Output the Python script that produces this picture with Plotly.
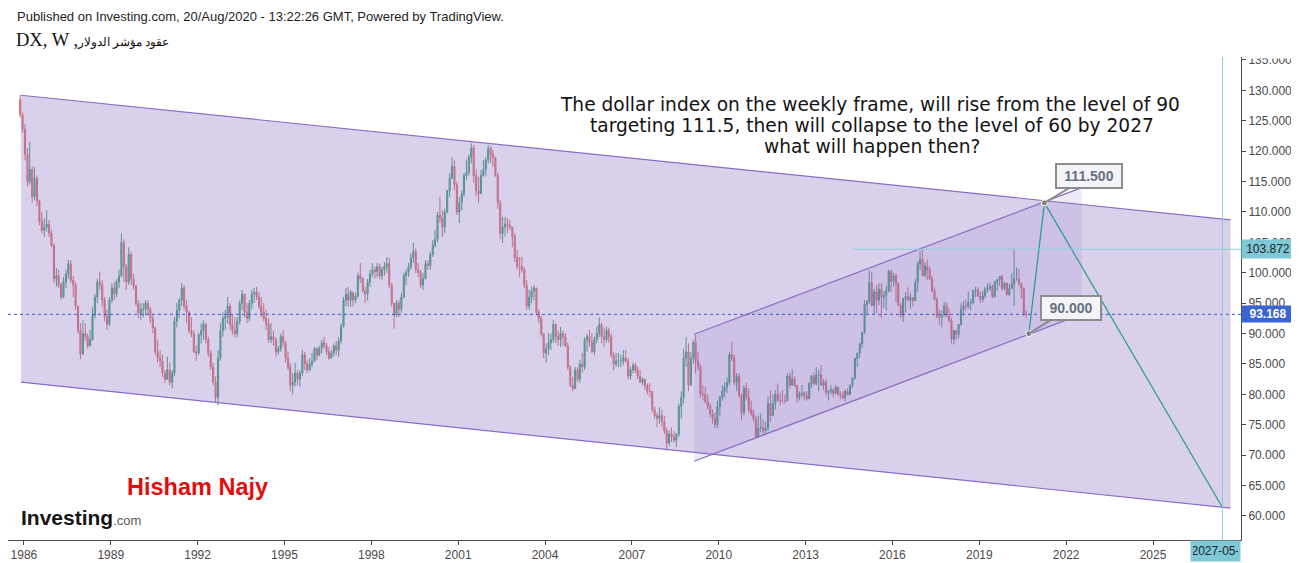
import datetime as dt
import pandas as pd
import plotly.graph_objects as go

# ---------------- data (monthly OHLC) ----------------
first_month = "1985-11-01"
first_open = 128.5

highs = [
    129.3, 126.4,  # 1985 Nov-Dec
    124.5, 120.5, 121.5, 117.5, 117.4, 116.0, 112.0, 110.0, 109.0, 110.3, 108.7, 107.0,  # 1986
    104.8, 100.8, 100.5, 98.3, 99.3, 100.5, 102.1, 102.1, 99.5, 98.5, 94.5, 91.7,  # 1987
    92.2, 91.7, 90.0, 90.6, 94.4, 96.5, 99.0, 100.2, 98.8, 96.0, 94.0, 96.0,  # 1988
    98.3, 98.5, 99.0, 100.5, 106.5, 105.5, 101.5, 104.2, 103.5, 99.8, 98.0, 95.5,  # 1989
    95.0, 95.0, 95.5, 95.5, 94.4, 93.0, 91.0, 89.0, 87.3, 86.5, 84.0, 86.2,  # 1990
    85.2, 84.0, 92.7, 95.0, 95.8, 98.3, 98.0, 95.5, 93.8, 92.7, 90.5, 88.0,  # 1991
    90.1, 91.7, 92.2, 91.8, 89.5, 87.3, 85.2, 83.0, 87.3, 91.7, 93.5, 93.9,  # 1992
    96.0, 95.0, 93.0, 92.7, 92.7, 95.5, 97.2, 96.5, 95.0, 95.5, 97.2, 97.5,  # 1993
    97.7, 96.8, 96.0, 95.0, 93.9, 92.5, 91.7, 90.5, 89.4, 88.0, 90.0, 90.6,  # 1994
    88.8, 87.0, 85.2, 83.5, 85.2, 84.0, 84.0, 87.3, 87.0, 85.6, 86.0, 86.8,  # 1995
    87.8, 87.8, 88.0, 89.0, 89.5, 88.5, 87.8, 87.3, 88.4, 88.8, 89.4, 91.7,  # 1996
    96.0, 97.5, 97.7, 97.2, 96.8, 96.7, 100.0, 101.6, 99.3, 97.7, 99.0, 100.5,  # 1997
    101.6, 101.0, 101.6, 101.5, 101.0, 101.8, 102.6, 102.5, 98.3, 95.0, 95.5, 95.5,  # 1998
    96.7, 100.0, 100.5, 101.6, 103.2, 104.9, 104.0, 101.6, 100.5, 100.0, 102.1, 102.0,  # 1999
    103.5, 105.4, 107.0, 110.0, 112.5, 110.3, 110.5, 113.6, 116.4, 119.0, 118.5, 115.0,  # 2000
    112.5, 113.6, 116.4, 118.6, 119.5, 121.3, 121.0, 117.0, 115.8, 116.9, 118.6, 119.0,  # 2001
    121.0, 120.8, 120.2, 119.0, 116.5, 112.0, 109.2, 109.2, 109.0, 108.7, 107.5, 106.5,  # 2002
    103.8, 102.6, 102.6, 101.0, 98.8, 97.2, 97.7, 98.0, 97.5, 94.0, 93.0, 90.1,  # 2003
    88.4, 90.1, 90.0, 92.2, 91.7, 90.5, 91.1, 90.5, 90.1, 88.5, 84.8, 82.9,  # 2004
    84.5, 84.5, 85.7, 86.8, 89.4, 90.0, 90.6, 90.1, 89.5, 91.1, 92.7, 91.8,  # 2005
    91.0, 91.1, 91.0, 90.0, 87.0, 86.8, 86.8, 86.5, 87.3, 87.3, 86.0, 84.5,  # 2006
    85.2, 85.2, 84.5, 84.0, 82.8, 82.4, 81.8, 81.9, 80.5, 78.0, 77.0, 77.9,  # 2007
    77.4, 76.5, 74.6, 74.1, 74.6, 74.0, 73.5, 78.5, 80.5, 87.5, 89.4, 88.4,  # 2008
    87.0, 89.0, 89.8, 87.0, 85.0, 81.5, 81.2, 80.0, 78.5, 77.5, 77.0, 79.0,  # 2009
    79.8, 81.5, 82.0, 82.8, 87.0, 88.7, 86.5, 83.5, 83.5, 80.2, 81.5, 81.9,  # 2010
    81.0, 79.0, 77.5, 76.5, 76.5, 76.9, 75.8, 75.5, 79.6, 80.7, 80.0, 80.7,  # 2011
    81.8, 80.2, 80.7, 80.0, 83.5, 83.6, 84.1, 83.0, 81.5, 80.5, 81.5, 80.5,  # 2012
    80.5, 82.0, 83.2, 83.6, 84.5, 84.0, 84.8, 82.5, 82.5, 80.8, 81.5, 81.0,  # 2013
    81.5, 81.3, 80.5, 80.5, 80.8, 81.0, 81.6, 82.8, 86.0, 86.8, 88.5, 90.2,  # 2014
    95.5, 95.5, 100.4, 100.2, 97.3, 98.0, 98.3, 98.3, 97.0, 97.8, 100.5, 100.5,  # 2015
    100.0, 99.9, 98.5, 95.0, 95.6, 96.8, 97.6, 96.6, 96.0, 99.0, 101.9, 103.6,  # 2016
    103.8, 101.7, 102.2, 101.0, 99.4, 97.6, 96.0, 94.0, 93.8, 95.2, 95.2, 94.2,  # 2017
    92.6, 90.6, 90.6, 91.6, 95.0, 95.4, 95.6, 96.9, 95.7, 97.2, 97.7, 97.7,  # 2018
    96.9, 97.0, 97.7, 98.3, 98.4, 98.0, 98.7, 99.0, 99.4, 99.7, 98.5, 98.4,  # 2019
    98.2, 99.9, 103.8, 100.9, 100.6, 98.4, 97.6, 93.9,  # 2020 Jan-Aug
]
lows = [
    125.5, 123.0,
    118.5, 114.2, 114.5, 111.5, 112.0, 111.0, 107.8, 106.5, 105.9, 106.8, 105.9, 104.2,
    98.3, 97.7, 97.5, 95.5, 95.8, 97.5, 99.0, 98.3, 96.0, 93.9, 90.0, 85.8,
    86.5, 88.8, 87.5, 87.8, 88.8, 92.5, 95.0, 97.2, 94.4, 92.0, 90.6, 91.2,
    95.0, 95.5, 96.0, 97.5, 99.3, 98.5, 97.2, 98.0, 98.0, 97.2, 94.5, 92.5,
    92.2, 92.7, 93.0, 93.0, 91.7, 90.1, 86.5, 85.2, 84.5, 82.9, 81.9, 82.4,
    81.5, 81.0, 83.0, 91.0, 92.5, 94.5, 93.9, 91.7, 90.0, 89.4, 86.8, 85.5,
    86.5, 88.4, 89.0, 88.4, 86.2, 84.0, 81.5, 78.6, 78.2, 85.5, 89.5, 90.6,
    91.7, 90.6, 89.8, 89.4, 89.4, 91.5, 93.9, 92.7, 91.7, 92.0, 94.0, 95.0,
    95.5, 94.0, 92.7, 92.0, 90.6, 88.5, 88.4, 88.0, 86.2, 86.5, 87.0, 87.8,
    85.2, 84.0, 80.5, 80.0, 81.3, 81.5, 81.3, 83.0, 84.0, 83.5, 83.8, 84.5,
    85.3, 85.6, 86.2, 86.8, 87.5, 86.5, 85.6, 85.8, 86.2, 86.5, 86.2, 88.4,
    91.0, 94.5, 94.4, 94.4, 94.5, 95.0, 95.8, 98.3, 96.7, 95.0, 95.5, 97.7,
    99.3, 99.0, 99.3, 99.0, 98.8, 99.5, 100.0, 97.5, 94.4, 90.8, 92.7, 92.7,
    93.4, 95.8, 98.0, 99.3, 100.5, 101.6, 100.0, 99.3, 97.5, 97.2, 99.0, 100.5,
    100.5, 102.6, 104.2, 105.0, 108.2, 105.9, 106.5, 109.8, 112.5, 115.5, 113.6, 109.5,
    108.2, 110.3, 112.5, 115.3, 116.0, 118.0, 114.8, 112.5, 111.5, 113.0, 115.8, 116.0,
    118.0, 118.0, 117.4, 115.8, 110.5, 105.5, 104.9, 105.9, 106.5, 107.0, 104.2, 101.8,
    100.5, 99.3, 100.0, 97.5, 93.9, 93.9, 95.0, 95.5, 93.0, 91.7, 89.5, 86.0,
    85.2, 86.5, 87.3, 88.5, 88.4, 88.0, 87.8, 88.0, 87.8, 84.0, 81.2, 80.5,
    80.8, 82.0, 81.9, 83.5, 84.0, 87.0, 87.8, 86.8, 86.5, 88.4, 89.4, 88.4,
    87.8, 88.5, 88.5, 86.0, 84.0, 84.5, 84.5, 84.5, 84.8, 85.2, 82.5, 82.4,
    83.5, 83.5, 82.5, 81.9, 81.5, 80.8, 80.0, 79.6, 77.0, 76.0, 74.6, 75.2,
    74.6, 73.5, 70.8, 71.5, 72.2, 72.0, 71.3, 73.0, 76.0, 78.5, 84.5, 80.5,
    81.5, 85.0, 83.5, 84.0, 79.5, 79.0, 78.5, 77.5, 76.3, 75.2, 74.4, 74.5,
    76.5, 79.0, 79.5, 80.2, 81.5, 85.5, 81.5, 80.5, 79.5, 75.8, 76.5, 79.0,
    77.0, 76.5, 75.5, 72.8, 72.8, 73.8, 73.5, 73.4, 74.0, 75.5, 76.5, 77.5,
    78.8, 78.2, 78.5, 78.5, 78.8, 81.0, 81.5, 81.2, 78.6, 79.0, 79.5, 79.0,
    79.0, 79.2, 81.0, 81.5, 81.5, 80.5, 81.5, 80.8, 79.8, 79.0, 80.0, 79.6,
    80.0, 79.8, 79.2, 79.2, 78.9, 79.8, 79.8, 81.0, 82.4, 84.5, 86.0, 87.6,
    89.9, 93.2, 94.9, 94.5, 93.1, 93.4, 94.7, 92.6, 94.2, 93.8, 96.8, 96.9,
    97.8, 95.2, 94.5, 92.6, 91.9, 93.5, 95.4, 94.1, 94.5, 95.4, 96.9, 100.5,
    99.4, 99.2, 98.8, 98.8, 96.8, 95.5, 92.5, 91.4, 91.0, 92.8, 92.6, 91.9,
    88.4, 88.2, 88.9, 89.2, 91.3, 93.2, 93.7, 94.1, 93.8, 94.8, 96.0, 96.0,
    95.0, 95.2, 95.8, 96.7, 97.0, 95.8, 95.9, 97.0, 97.8, 97.1, 97.1, 96.3,
    96.2, 97.3, 94.6, 98.7, 97.8, 95.7, 92.9, 92.6,
]
closes = [
    126.0, 123.6,
    119.5, 115.0, 117.0, 112.5, 115.5, 111.8, 108.5, 107.0, 107.5, 108.0, 106.5, 104.5,
    99.0, 99.5, 98.0, 96.0, 98.5, 99.8, 101.5, 98.8, 98.0, 94.5, 90.5, 86.6,
    90.0, 89.5, 88.0, 89.0, 93.0, 96.0, 98.5, 98.0, 95.5, 92.8, 91.5, 95.5,
    97.5, 96.5, 98.5, 99.5, 105.0, 101.0, 98.5, 103.0, 99.0, 97.8, 95.0, 93.3,
    94.0, 94.0, 95.0, 94.0, 92.5, 91.0, 87.0, 86.0, 85.5, 83.5, 82.5, 84.0,
    82.0, 83.5, 92.0, 93.8, 95.5, 97.5, 94.5, 93.5, 90.5, 90.0, 87.0, 86.8,
    89.8, 90.5, 91.5, 89.0, 86.8, 84.5, 82.0, 79.5, 86.0, 90.5, 92.5, 92.8,
    94.5, 91.5, 90.5, 90.0, 92.0, 95.0, 96.5, 93.5, 92.5, 95.0, 96.5, 96.8,
    96.0, 94.5, 93.5, 92.5, 91.5, 89.0, 89.5, 89.0, 87.0, 87.5, 89.5, 88.5,
    86.0, 84.5, 81.5, 82.0, 83.5, 82.5, 83.5, 86.5, 85.0, 84.0, 85.0, 85.5,
    87.5, 86.5, 87.5, 88.5, 88.0, 87.0, 86.0, 86.8, 88.0, 87.3, 88.8, 91.2,
    95.5, 96.5, 95.5, 96.8, 95.5, 96.2, 99.5, 99.0, 97.0, 96.5, 98.5, 99.8,
    100.5, 100.2, 101.0, 99.5, 100.5, 101.0, 101.5, 98.0, 95.0, 93.0, 95.0, 94.0,
    96.0, 99.5, 100.0, 101.0, 102.5, 103.5, 100.5, 100.0, 98.0, 99.0, 101.5, 101.2,
    103.0, 104.5, 105.5, 109.5, 109.0, 107.5, 110.0, 113.5, 115.5, 117.5, 114.5, 110.0,
    111.5, 113.0, 116.0, 116.5, 119.0, 120.5, 116.0, 113.5, 113.0, 116.0, 117.0, 118.5,
    120.5, 119.5, 119.0, 116.0, 111.5, 106.5, 107.5, 108.0, 107.8, 107.5, 106.0, 102.5,
    101.0, 101.0, 100.5, 98.0, 94.5, 96.0, 97.0, 97.5, 93.5, 92.5, 90.0, 86.8,
    87.5, 88.5, 89.0, 91.5, 89.5, 89.0, 90.0, 89.5, 88.0, 84.5, 81.5, 81.0,
    84.0, 82.5, 85.0, 84.5, 89.0, 89.5, 88.5, 87.0, 89.0, 90.0, 91.5, 89.5,
    89.0, 90.5, 89.5, 86.5, 85.0, 85.5, 85.5, 85.5, 86.0, 85.5, 83.0, 84.0,
    84.8, 84.0, 83.0, 82.0, 82.5, 81.5, 80.5, 80.5, 77.5, 76.5, 76.0, 76.5,
    75.5, 74.0, 72.0, 73.5, 73.0, 72.5, 73.5, 78.0, 79.5, 86.0, 87.0, 81.5,
    86.0, 88.5, 85.5, 84.5, 80.0, 80.0, 78.8, 78.0, 76.8, 76.0, 75.0, 78.0,
    79.5, 80.5, 81.2, 82.0, 86.5, 86.0, 82.0, 83.0, 79.8, 77.0, 81.0, 79.5,
    77.5, 76.8, 76.0, 73.0, 74.5, 74.5, 74.0, 74.5, 78.5, 76.5, 78.5, 80.0,
    79.0, 79.0, 79.0, 79.0, 83.0, 81.5, 82.5, 81.5, 79.5, 80.0, 80.2, 79.8,
    79.3, 81.8, 83.0, 81.8, 83.2, 83.2, 81.5, 82.0, 80.3, 80.5, 80.7, 80.2,
    81.2, 80.0, 80.0, 79.5, 80.5, 80.0, 81.5, 82.7, 85.9, 86.8, 88.3, 90.2,
    94.8, 95.3, 98.4, 94.6, 96.9, 95.5, 97.3, 96.0, 96.3, 97.0, 100.2, 98.6,
    99.5, 98.2, 94.6, 93.0, 95.8, 96.1, 95.5, 95.9, 95.4, 98.4, 101.5, 102.2,
    99.5, 101.1, 100.4, 99.0, 97.0, 95.6, 92.9, 92.7, 93.1, 94.6, 93.0, 92.1,
    89.1, 90.5, 89.9, 91.5, 94.0, 94.6, 94.5, 95.1, 95.1, 97.1, 97.2, 96.2,
    95.6, 96.2, 97.3, 97.5, 97.8, 96.1, 98.5, 98.9, 99.4, 97.4, 98.3, 96.4,
    97.4, 98.1, 99.0, 99.0, 98.3, 97.4, 93.3, 93.168,
]
opens = [first_open] + closes[:-1]
months = pd.date_range(first_month, periods=len(closes), freq="MS") + pd.Timedelta(days=14)

# drawings (fractional years / index values)
big_channel_x = [1985.9, 2027.68]
big_channel_top = [129.2, 108.7]
big_channel_bottom = [82.0, 61.3]
inner_channel_x = [2009.15, 2022.54]
inner_channel_top = [89.9, 114.0]
inner_channel_bottom = [69.0, 93.2]
projection_x = [2020.71, 2021.25, 2027.40]
projection_y = [90.0, 111.5, 61.4]
resistance_level = 103.872
resistance_start = 2014.6
last_price = 93.168
target_date = 2027.40
x_range = [1985.45, 2028.04]
y_range = [56.05, 135.49]
tick_years = [1986, 1989, 1992, 1995, 1998, 2001, 2004, 2007, 2010, 2013, 2016, 2019, 2022, 2025]
y_ticks = [60, 65, 70, 75, 80, 85, 90, 95, 100, 105, 110, 115, 120, 125, 130, 135]


def fy(f):
    y = int(f)
    d0 = dt.datetime(y, 1, 1)
    d1 = dt.datetime(y + 1, 1, 1)
    return d0 + (d1 - d0) * (f - y)


# page-pixel helpers (the page body adds an 8px offset to the figure)
OFF = 8
PL, PR, PT, PB = 8, 1241, 57, 540
FIG_W, FIG_H = 1299 - OFF, 563 - OFF


def px(x):
    return (x - PL) / (PR - PL)


def py(y):
    return (PB - y) / (PB - PT)


PURPLE = "#8b6cc4"
CYAN = "#8ccfdc"
TEAL = "#2f9e96"

fig = go.Figure()

# big channel fill
bx = [fy(v) for v in big_channel_x]
fig.add_trace(go.Scatter(
    x=[bx[0], bx[1], bx[1], bx[0], bx[0]],
    y=[big_channel_top[0], big_channel_top[1], big_channel_bottom[1], big_channel_bottom[0], big_channel_top[0]],
    fill="toself", fillcolor="rgba(150,125,200,0.36)", line=dict(width=0),
    mode="lines", hoverinfo="skip", showlegend=False))
# inner channel fill
ix = [fy(v) for v in inner_channel_x]
fig.add_trace(go.Scatter(
    x=[ix[0], ix[1], ix[1], ix[0], ix[0]],
    y=[inner_channel_top[0], inner_channel_top[1], inner_channel_bottom[1], inner_channel_bottom[0], inner_channel_top[0]],
    fill="toself", fillcolor="rgba(120,90,190,0.13)", line=dict(width=0),
    mode="lines", hoverinfo="skip", showlegend=False))

# candles
fig.add_trace(go.Candlestick(
    x=months, open=opens, high=highs, low=lows, close=closes,
    increasing=dict(line=dict(color="#3a9e78", width=1), fillcolor="#33c08a"),
    decreasing=dict(line=dict(color="#d86a66", width=1), fillcolor="#f2837c"),
    whiskerwidth=0, hoverinfo="skip", showlegend=False))

# channel lines
for xs, ys in [(bx, big_channel_top), (bx, big_channel_bottom), (ix, inner_channel_top), (ix, inner_channel_bottom)]:
    fig.add_trace(go.Scatter(x=xs, y=ys, mode="lines", line=dict(color=PURPLE, width=1.2),
                             hoverinfo="skip", showlegend=False))

# projection path
fig.add_trace(go.Scatter(x=[fy(v) for v in projection_x], y=projection_y, mode="lines",
                         line=dict(color=TEAL, width=1.3), hoverinfo="skip", showlegend=False))
fig.add_trace(go.Scatter(x=[fy(v) for v in projection_x[:2]], y=projection_y[:2], mode="markers",
                         marker=dict(size=6, color="#808080", line=dict(color="white", width=1)),
                         hoverinfo="skip", showlegend=False))

shapes = [
    dict(type="line", xref="paper", x0=0, x1=1, yref="y", y0=last_price, y1=last_price,
         line=dict(color="#3556c9", width=1, dash="dot")),
    dict(type="line", xref="x", x0=fy(resistance_start), x1=fy(x_range[1]), yref="y",
         y0=resistance_level, y1=resistance_level, line=dict(color=CYAN, width=1)),
    dict(type="line", xref="x", x0=fy(target_date), x1=fy(target_date), yref="paper", y0=0, y1=1,
         line=dict(color=CYAN, width=1)),
]

TXT = dict(family="DejaVu Sans", size=18.6, color="#141414")
annotations = [
    dict(xref="paper", yref="paper", x=px(15), y=py(17), xanchor="left", yanchor="middle",
         text="Published on Investing.com, 20/Aug/2020 - 13:22:26 GMT, Powered by TradingView.",
         showarrow=False, font=dict(family="Liberation Sans", size=13, color="#1e1e1e")),
    dict(xref="paper", yref="paper", x=px(14), y=py(40), xanchor="left", yanchor="middle",
         text="DX, W ,<span style='font-size:11.5px'>عقود مؤشر الدولار</span>",
         showarrow=False, font=dict(family="Liberation Serif", size=18.5, color="#111111")),
    dict(xref="paper", yref="paper", x=px(870), y=py(105), xanchor="center", yanchor="middle",
         text="The dollar index on the weekly frame, will rise from the level of 90",
         showarrow=False, font=TXT),
    dict(xref="paper", yref="paper", x=px(872), y=py(125), xanchor="center", yanchor="middle",
         text="targeting 111.5, then will collapse to the level of 60 by 2027",
         showarrow=False, font=TXT),
    dict(xref="paper", yref="paper", x=px(872), y=py(146), xanchor="center", yanchor="middle",
         text="what will happen then?",
         showarrow=False, font=TXT),
    dict(xref="paper", yref="paper", x=px(198), y=py(487), xanchor="center", yanchor="middle",
         text="<b>Hisham Najy</b>", showarrow=False,
         font=dict(family="Liberation Sans", size=23.5, color="#e20d0d")),
    dict(xref="paper", yref="paper", x=px(19), y=py(517), xanchor="left", yanchor="middle",
         text="<b>Investing</b><span style='font-size:13px;color:#5a5a5a'>.com</span>", showarrow=False,
         font=dict(family="Liberation Sans", size=21, color="#161616")),
    # callouts
    dict(x=fy(projection_x[1]), y=projection_y[1], xref="x", yref="y", text="<b>111.500</b>",
         showarrow=True, arrowhead=0, arrowwidth=2, arrowcolor="#8d8d8d", ax=45, ay=-27,
         bgcolor="#f4f5f8", bordercolor="#8d8d8d", borderwidth=2, borderpad=3, width=58,
         font=dict(family="Liberation Sans", size=14, color="#66707e")),
    dict(x=fy(projection_x[0]), y=projection_y[0], xref="x", yref="y", text="<b>90.000</b>",
         showarrow=True, arrowhead=0, arrowwidth=2, arrowcolor="#8d8d8d", ax=42, ay=-26,
         bgcolor="#f4f5f8", bordercolor="#8d8d8d", borderwidth=2, borderpad=3, width=52,
         font=dict(family="Liberation Sans", size=14, color="#66707e")),
    # axis labels
    dict(xref="paper", yref="y", x=1, y=resistance_level, xanchor="left", yanchor="middle",
         text=f"{resistance_level:.3f}", showarrow=False, bgcolor="#7fc9d6", width=48, height=14,
         borderpad=2, font=dict(family="Liberation Sans", size=12, color="#1b2328")),
    dict(xref="paper", yref="y", x=1, y=last_price, xanchor="left", yanchor="middle",
         text=f"<b>{last_price:.3f}</b>", showarrow=False, bgcolor="#3a63d4", width=48, height=12,
         borderpad=2, font=dict(family="Liberation Sans", size=12, color="#ffffff")),
    dict(xref="paper", yref="paper", x=px(1215.5), y=py(551), xanchor="center", yanchor="middle",
         text="2027-05-", showarrow=False, bgcolor="#7fc9d6", width=45, height=16,
         borderpad=2, font=dict(family="Liberation Sans", size=12, color="#1b2328")),
    # mask clipping the top tick label like the pane edge
    dict(xref="paper", yref="paper", x=px(1244), y=py(59), xanchor="left", yanchor="bottom",
         text=" ", showarrow=False, bgcolor="#ffffff", width=54, height=14, borderpad=0),
]

fig.update_layout(
    width=FIG_W, height=FIG_H,
    margin=dict(l=PL - OFF, r=1299 - PR, t=PT - OFF, b=563 - PB),
    paper_bgcolor="white", plot_bgcolor="white",
    showlegend=False,
    shapes=shapes, annotations=annotations,
    font=dict(family="Liberation Sans", size=12, color="#4a4a4a"),
    xaxis=dict(type="date", range=[fy(x_range[0]), fy(x_range[1])],
               tickvals=[dt.datetime(y, 1, 1) for y in tick_years],
               ticktext=[str(y) for y in tick_years],
               showgrid=False, zeroline=False, showline=True, linecolor="#4d4d4d", linewidth=1,
               ticks="outside", ticklen=4, tickcolor="#4d4d4d",
               tickfont=dict(family="Liberation Sans", size=12, color="#4a4a4a"),
               rangeslider=dict(visible=False), fixedrange=True),
    yaxis=dict(side="right", range=y_range, tickvals=y_ticks,
               ticktext=[f"{v:.3f}" for v in y_ticks],
               showgrid=False, zeroline=False, showline=True, linecolor="#4d4d4d", linewidth=1,
               ticks="outside", ticklen=4, tickcolor="#4d4d4d",
               tickfont=dict(family="Liberation Sans", size=12, color="#4a4a4a"), fixedrange=True),
)

fig.write_html("out.html")
